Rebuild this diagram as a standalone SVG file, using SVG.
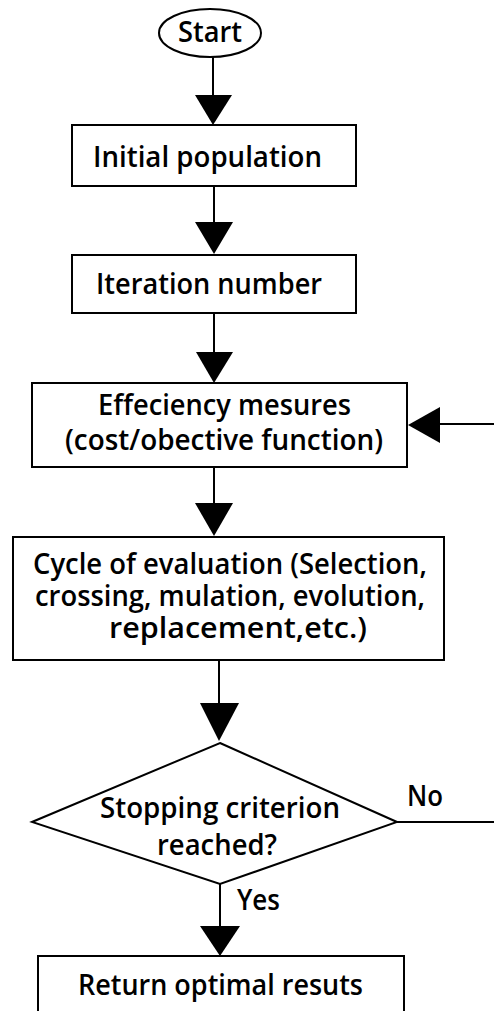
<svg xmlns="http://www.w3.org/2000/svg" width="494" height="1011" viewBox="0 0 494 1011">
<style>
.shape{fill:#fff;stroke:#000;stroke-width:2}
.ln{stroke:#000;stroke-width:2;fill:none}
.ah{fill:#000;stroke:none}
text{font-family:"Open Sans","Noto Sans",sans-serif;font-weight:600;font-size:28px;fill:#000;text-anchor:middle}
</style>
<rect width="494" height="1011" fill="#fff"/>
<g id="connectors">
<line class="ln" x1="213" y1="57" x2="213" y2="96"/>
<polygon class="ah" points="195,95 232,95 213,125"/>
<line class="ln" x1="214" y1="186" x2="214" y2="223"/>
<polygon class="ah" points="195,222 233,222 214,254"/>
<line class="ln" x1="214" y1="313" x2="214" y2="353"/>
<polygon class="ah" points="196,352 233,352 214,383"/>
<line class="ln" x1="214" y1="467" x2="214" y2="504"/>
<polygon class="ah" points="195,503 233,503 214,536"/>
<line class="ln" x1="219" y1="660" x2="219" y2="704"/>
<polygon class="ah" points="200,703 239,703 219,741"/>
<line class="ln" x1="220" y1="884" x2="220" y2="927"/>
<polygon class="ah" points="200,926 240,926 220,956"/>
<line class="ln" x1="397" y1="822" x2="494" y2="822"/>
<line class="ln" x1="494" y1="424" x2="439" y2="424"/>
<polygon class="ah" points="440,407 440,443 408,425"/>
<text x="425" y="806" textLength="36" lengthAdjust="spacingAndGlyphs">No</text>
<text x="258.5" y="910" textLength="43" lengthAdjust="spacingAndGlyphs">Yes</text>
</g>
<g id="start">
<ellipse class="shape" cx="210" cy="33" rx="51" ry="24"/>
<text x="210" y="42" textLength="64" lengthAdjust="spacingAndGlyphs">Start</text>
</g>
<g id="initial-population">
<rect class="shape" x="72" y="125" width="284" height="61"/>
<text x="207.5" y="167" textLength="229" lengthAdjust="spacingAndGlyphs">Initial population</text>
</g>
<g id="iteration-number">
<rect class="shape" x="72" y="255" width="284" height="58"/>
<text x="209" y="294" textLength="226" lengthAdjust="spacingAndGlyphs">Iteration number</text>
</g>
<g id="efficiency">
<rect class="shape" x="32" y="383" width="375" height="84"/>
<text x="224.5" y="415" textLength="253" lengthAdjust="spacingAndGlyphs">Effeciency mesures</text>
<text x="224" y="450" textLength="318" lengthAdjust="spacingAndGlyphs">(cost/obective function)</text>
</g>
<g id="cycle">
<rect class="shape" x="13" y="537" width="431" height="123"/>
<text x="230" y="574" textLength="394" lengthAdjust="spacingAndGlyphs">Cycle of evaluation (Selection,</text>
<text x="230" y="606" textLength="390" lengthAdjust="spacingAndGlyphs">crossing, mulation, evolution,</text>
<text x="238" y="638" textLength="258" lengthAdjust="spacingAndGlyphs">replacement,etc.)</text>
</g>
<g id="stopping">
<polygon class="shape" points="220,743 397,822 220,884 32,822"/>
<text x="220" y="818" textLength="240" lengthAdjust="spacingAndGlyphs">Stopping criterion</text>
<text x="217" y="855" textLength="120" lengthAdjust="spacingAndGlyphs">reached?</text>
</g>
<g id="return">
<rect class="shape" x="38" y="956" width="366" height="80"/>
<text x="220.5" y="995" textLength="285" lengthAdjust="spacingAndGlyphs">Return optimal resuts</text>
</g>
</svg>
